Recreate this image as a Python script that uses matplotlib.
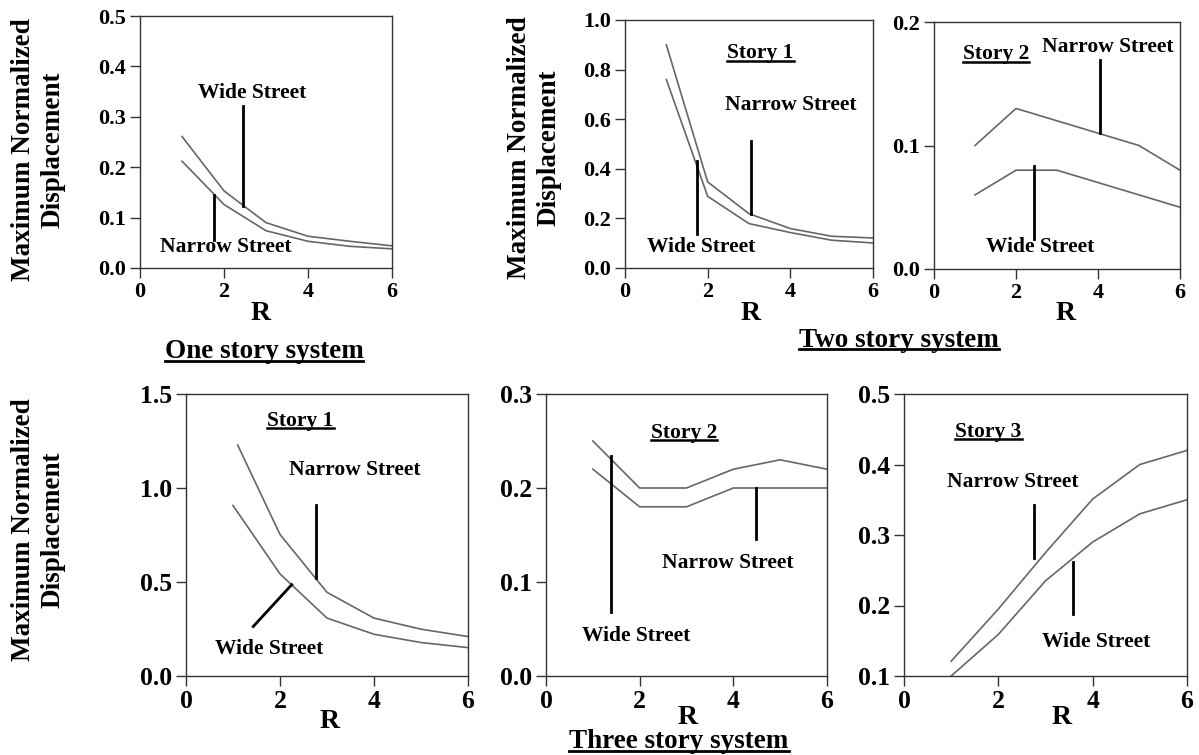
import matplotlib
matplotlib.use("Agg")
import matplotlib.pyplot as plt
from matplotlib.lines import Line2D

plt.rcParams['font.family'] = ['Liberation Serif', 'DejaVu Serif']
plt.rcParams['font.weight'] = 'bold'

# data
R = [1, 2, 3, 4, 5, 6]
R_start = [1.1, 2, 3, 4, 5, 6]

one_wide = [0.261, 0.153, 0.090, 0.063, 0.053, 0.044]
one_narrow = [0.212, 0.126, 0.074, 0.053, 0.043, 0.038]

two_s1_narrow = [0.90, 0.347, 0.219, 0.159, 0.128, 0.121]
two_s1_wide = [0.76, 0.289, 0.179, 0.143, 0.112, 0.101]

two_s2_narrow = [0.10, 0.13, 0.12, 0.11, 0.10, 0.08]
two_s2_wide = [0.06, 0.08, 0.08, 0.07, 0.06, 0.05]

three_s1_narrow = [1.228, 0.753, 0.445, 0.308, 0.249, 0.21]
three_s1_wide = [0.907, 0.543, 0.308, 0.222, 0.178, 0.151]

three_s2_wide = [0.25, 0.20, 0.20, 0.22, 0.23, 0.22]
three_s2_narrow = [0.22, 0.18, 0.18, 0.20, 0.20, 0.20]

three_s3_narrow = [0.121, 0.195, 0.275, 0.351, 0.40, 0.42]
three_s3_wide = [0.10, 0.159, 0.235, 0.29, 0.33, 0.35]

W, H = 1199, 755
fig = plt.figure(figsize=(W / 100, H / 100), dpi=100)


def box(x0, x1, ytop, ybot):
    return [x0 / W, 1 - ybot / H, (x1 - x0) / W, (ybot - ytop) / H]


def underline(t, fs, lw=1.6):
    fig.canvas.draw()
    bb = t.get_window_extent()
    y = bb.y0 + 0.12 * fs * 100 / 72
    fig.add_artist(Line2D([bb.x0 / W, bb.x1 / W], [y / H, y / H],
                          transform=fig.transFigure, color='black', lw=lw))


# panel: position, curves, ylim, yticks, labels, leader lines, tick size
panels = [
    dict(pos=box(140, 392, 16, 268), curves=[(R, one_wide), (R, one_narrow)],
         ylim=(0, 0.5), yticks=[0, 0.1, 0.2, 0.3, 0.4, 0.5], fs=16,
         story=None,
         texts=[('Wide Street', 2.66, 0.347), ('Narrow Street', 2.03, 0.041)],
         leaders=[([2.46, 2.46], [0.321, 0.124]), ([1.75, 1.75], [0.144, 0.056])]),
    dict(pos=box(625, 873, 20, 268), curves=[(R, two_s1_narrow), (R, two_s1_wide)],
         ylim=(0, 1.0), yticks=[0, 0.2, 0.4, 0.6, 0.8, 1.0], fs=16,
         story=('Story 1', 3.28, 0.865),
         texts=[('Narrow Street', 4.0, 0.657), ('Wide Street', 1.85, 0.085)],
         leaders=[([1.73, 1.73], [0.431, 0.139]), ([3.05, 3.05], [0.513, 0.219])]),
    dict(pos=box(934, 1180, 22, 269), curves=[(R, two_s2_narrow), (R, two_s2_wide)],
         ylim=(0, 0.2), yticks=[0, 0.1, 0.2], fs=16,
         story=('Story 2', 1.51, 0.174),
         texts=[('Narrow Street', 4.23, 0.18), ('Wide Street', 2.6, 0.018)],
         leaders=[([4.05, 4.05], [0.169, 0.11]), ([2.44, 2.44], [0.083, 0.024])]),
    dict(pos=box(186, 468, 394, 676), curves=[(R_start, three_s1_narrow), (R, three_s1_wide)],
         ylim=(0, 1.5), yticks=[0, 0.5, 1.0, 1.5], fs=18.5,
         story=('Story 1', 2.44, 1.358),
         texts=[('Narrow Street', 3.6, 1.098), ('Wide Street', 1.77, 0.146)],
         leaders=[([2.77, 2.77], [0.907, 0.521]), ([2.25, 1.43], [0.486, 0.263])]),
    dict(pos=box(546, 827, 394, 676), curves=[(R, three_s2_wide), (R, three_s2_narrow)],
         ylim=(0, 0.3), yticks=[0, 0.1, 0.2, 0.3], fs=18.5,
         story=('Story 2', 2.94, 0.259),
         texts=[('Narrow Street', 3.89, 0.12), ('Wide Street', 1.93, 0.043)],
         leaders=[([1.38, 1.38], [0.234, 0.068]), ([4.49, 4.49], [0.20, 0.146])]),
    dict(pos=box(904, 1187, 394, 676), curves=[(R, three_s3_narrow), (R, three_s3_wide)],
         ylim=(0.1, 0.5), yticks=[0.1, 0.2, 0.3, 0.4, 0.5], fs=18.5,
         story=('Story 3', 1.79, 0.446),
         texts=[('Narrow Street', 2.30, 0.375), ('Wide Street', 4.07, 0.148)],
         leaders=[([2.76, 2.76], [0.342, 0.268]), ([3.58, 3.58], [0.261, 0.188])]),
]

for p in panels:
    ax = fig.add_axes(p['pos'])
    for xs, ys in p['curves']:
        ax.plot(xs, ys, color='#666666', lw=1.2)
    for xs, ys in p['leaders']:
        ax.plot(xs, ys, color='black', lw=2)
    for s, x, y in p['texts']:
        ax.text(x, y, s, ha='center', va='center', fontsize=15.5, fontweight='bold')
    ax.set_xlim(0, 6)
    ax.set_ylim(*p['ylim'])
    ax.set_xticks([0, 2, 4, 6])
    ax.set_yticks(p['yticks'])
    ax.set_yticklabels(['%.1f' % v for v in p['yticks']])
    ax.tick_params(direction='out', length=7, width=1, color='#333333',
                   labelsize=p['fs'], pad=3)
    for lab in ax.get_xticklabels() + ax.get_yticklabels():
        lab.set_fontweight('bold')
    for sp in ax.spines.values():
        sp.set_linewidth(1)
        sp.set_color('#333333')
    if p['story']:
        s, x, y = p['story']
        t = ax.text(x, y, s, ha='center', va='center', fontsize=15.5, fontweight='bold')
        underline(t, 15.5, lw=1.8)

# axis labels
ylab = 'Maximum Normalized\nDisplacement'
for x, y in [(38, 150), (534, 148), (38, 530)]:
    fig.text(x / W, 1 - y / H, ylab, rotation=90, ha='center', va='center',
             fontsize=19.5, fontweight='bold', linespacing=1.25)

for x, y in [(261, 313), (751, 313), (1066, 313), (330, 722), (688, 717), (1062, 717)]:
    fig.text(x / W, 1 - y / H, 'R', ha='center', va='center', fontsize=20, fontweight='bold')

for s, x, y in [('One story system', 264, 352), ('Two story system', 899, 340),
                ('Three story system', 679, 742)]:
    t = fig.text(x / W, 1 - y / H, s, ha='center', va='center', fontsize=19.5, fontweight='bold')
    underline(t, 19.5, lw=2)

fig.savefig('out.png', dpi=100)
